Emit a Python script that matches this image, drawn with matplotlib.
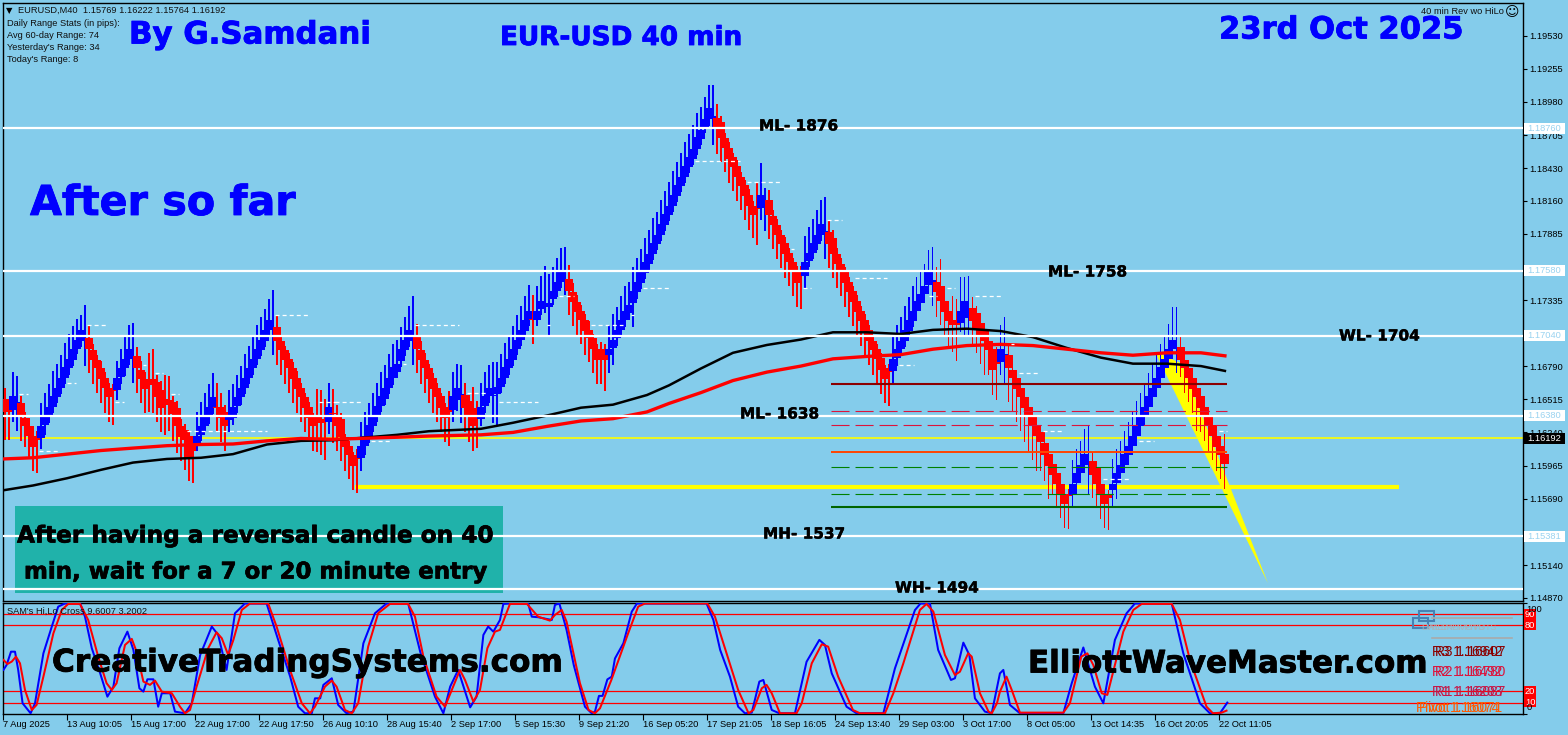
import numpy as np
import matplotlib
matplotlib.use("Agg")
import matplotlib.pyplot as plt
import matplotlib.patheffects as pe
from matplotlib.patches import Rectangle, Polygon

W, H = 1568, 735
BG = '#84CCEB'
plt.rcParams['lines.scale_dashes'] = False
plt.rcParams['font.family'] = ['Liberation Sans', 'DejaVu Sans']

# ---- EURUSD M40 heikin-style candles, read per bar (in 1/10000 of a price unit)
opens = [
11652,11644,11643,11648,11648,11636,11629,11621,11621,11619,11630,11638,11645,11653,11661,11669,11677,11684,11693,11700,
11703,11702,11692,11684,11677,11669,11661,11661,11659,11670,11677,11685,11686,11687,11676,11668,11668,11668,11666,11659,
11652,11651,11649,11644,11629,11626,11621,11614,11614,11622,11629,11637,11645,11645,11645,11641,11634,11636,11646,11653,
11661,11669,11677,11685,11692,11700,11709,11710,11711,11700,11692,11685,11677,11669,11661,11653,11645,11636,11637,11635,
11634,11633,11640,11638,11635,11620,11613,11605,11605,11603,11613,11621,11629,11638,11646,11652,11661,11669,11674,11683,
11692,11700,11700,11704,11692,11684,11677,11669,11661,11654,11645,11645,11643,11651,11655,11655,11650,11644,11636,11635,
11646,11654,11654,11656,11662,11669,11677,11684,11693,11701,11708,11717,11718,11717,11726,11728,11728,11735,11741,11749,
11750,11751,11740,11732,11725,11717,11709,11702,11693,11693,11692,11688,11694,11702,11709,11717,11723,11731,11740,11748,
11756,11764,11772,11780,11788,11796,11804,11812,11820,11828,11836,11844,11851,11859,11867,11876,11884,11884,11885,11881,
11868,11860,11852,11845,11836,11829,11821,11812,11812,11810,11815,11817,11803,11796,11788,11781,11773,11765,11758,11757,
11754,11766,11773,11780,11788,11790,11790,11785,11772,11764,11757,11749,11741,11733,11725,11717,11709,11700,11693,11686,
11677,11677,11675,11686,11693,11700,11708,11716,11725,11731,11739,11746,11749,11749,11745,11733,11725,11717,11717,11715,
11719,11726,11727,11723,11715,11709,11700,11693,11685,11682,11688,11688,11676,11669,11661,11653,11645,11637,11630,11624,
11615,11606,11598,11590,11581,11572,11573,11572,11582,11590,11597,11598,11600,11595,11581,11572,11572,11576,11582,11590,
11597,11605,11613,11621,11629,11637,11645,11653,11661,11669,11677,11685,11693,11694,11695,11684,11677,11669,11661,11654,
11645,11637,11630,11621,11613,11606]
closes = [
11641,11641,11654,11649,11637,11629,11621,11612,11618,11629,11637,11645,11654,11661,11669,11678,11685,11693,11701,11709,
11704,11693,11684,11677,11668,11661,11653,11658,11669,11677,11685,11693,11687,11677,11668,11660,11667,11663,11653,11644,
11650,11647,11639,11629,11620,11618,11604,11609,11621,11629,11637,11645,11653,11644,11636,11629,11637,11645,11653,11661,
11669,11677,11685,11693,11701,11709,11717,11711,11700,11692,11684,11677,11668,11660,11653,11644,11636,11629,11634,11632,
11633,11645,11639,11629,11620,11612,11605,11596,11602,11613,11621,11630,11637,11646,11654,11661,11669,11678,11681,11693,
11701,11709,11704,11693,11684,11677,11668,11660,11653,11644,11636,11641,11654,11661,11656,11644,11637,11629,11635,11645,
11654,11661,11655,11662,11669,11678,11685,11693,11701,11709,11717,11725,11717,11725,11733,11729,11731,11741,11749,11757,
11751,11741,11732,11724,11717,11708,11702,11693,11684,11688,11684,11693,11701,11709,11717,11725,11730,11741,11749,11757,
11765,11772,11781,11788,11797,11805,11812,11821,11829,11836,11845,11852,11859,11869,11875,11884,11893,11886,11876,11868,
11860,11851,11844,11836,11828,11820,11812,11804,11809,11821,11817,11804,11796,11788,11780,11772,11765,11757,11748,11754,
11765,11773,11781,11788,11797,11791,11780,11772,11764,11757,11748,11740,11732,11724,11716,11708,11700,11692,11685,11676,
11668,11674,11685,11693,11700,11709,11717,11725,11733,11739,11745,11757,11750,11740,11733,11724,11716,11713,11713,11725,
11733,11727,11716,11710,11703,11700,11692,11676,11681,11693,11689,11677,11669,11660,11653,11644,11637,11629,11621,11616,
11605,11596,11589,11581,11573,11565,11571,11581,11590,11597,11606,11599,11589,11581,11572,11565,11570,11581,11590,11597,
11606,11613,11621,11630,11637,11645,11654,11661,11669,11678,11685,11693,11701,11695,11684,11677,11669,11660,11653,11644,
11637,11629,11621,11612,11605,11598]
upper_wicks = [
9,5, 20,22, 6,5,7,8,4, 19,20,19,21,20,19,20,21,19,17,12,26, 10,5,4,6,5,4,3, 14,16,18,20,28,
8,7,6,22,25,6,8,20,20,5,6,6,5,4,5, 20,20,20,19,20, 20,12,6, 22,19,19,18,20,19,19,20,19,17,18,31,
10,5,4,5,5,6,4,4,4,4,23,24,18, 20, 20,9,5,3,4,3,5, 20,20,18,20,19,20,19,20,19,20,18,19,20,33,
10,8,6,4,4,4,3,3,13, 20,20,24, 10,5,18,14, 20,20,19,27,20,20,20,20,19,20,20,20,21, 20,
20,21,33,24,20,20,20,27, 12,8,6,5,5,7,4,4,6,5,
20,21,19,20,20,19,20,20,19,20,20,21,19,20,19,20,20,19,20,20,19,20,20,19,18,19,26,
11,5,4,5,4,5,4,4,5,4,20, 26,10, 8,5,5,4,5,4,4,4,5, 22,21,20,20,20,28,
10,7,5,5,4,4,4,5,4,5,4,4,4,4,3,4, 20,20,20,20,19,20,20,20,19,18,28, 12,23,6,5,20,18, 28,20,27,
9,6,5,4,6,4,10, 20,31, 10,5,4,5,4,4,4,5,6,4,4,4,4,4,3,4, 20,20,20,21,30, 8,5,4,4,4,
21,20,20,19,20,20,20,20,20,19,20,20,19,20,21,27,33, 8,5,4,4,5,4,4,4,4,4,5,17]
lower_wicks = [
23,23, 10,23, 20,17,19,20,28, 9,8,6,5,5,5,5,5,5,4,5,24, 20,20,20,20,21,20,28, 8,6,6,5,21,
20,20,20,26,23,20,20,28,22,22,22,20,25,20,27, 5,5,5,6,6, 20,20,20, 10,6,6,6,5,5,5,5,5,5,5,22,
20,20,20,20,20,20,20,20,19,20,26,27,32, 10, 24,20,20,20,20,20,28, 11,8,6,5,5,5,5,5,6,5,5,5,5,20,
20,20,20,20,20,20,20,20,28, 10,9,23, 20,21,20,24, 6,6,6,22,27,5,5,5,5,5,5,5,5, 20,
5,5,5,25,5,5,5,12, 20,20,20,20,20,20,20,20,24,26,
15,14,6,6,6,6,20,5,5,5,5,5,5,5,5,5,5,5,5,5,5,5,5,5,4,6,22,
21,20,20,20,20,20,20,20,20,19,30, 10,24, 20,20,20,20,20,20,20,20,28, 10,5,5,5,5,22,
20,20,20,20,20,20,20,20,20,20,20,20,20,20,20,28, 10,7,5,5,5,5,5,5,5,5,20, 20,20,20,20,22,30, 8,14,21,
20,20,22,28,20,21,30, 10,24, 28,28,27,28,28,28,28,29,24,21,27,17,18,20,20,27, 9,8,6,5,26, 19,19,20,20,27,
13,13,6,5,5,5,5,5,5,5,5,5,5,5,5,5,21, 14,20,20,20,28,20,20,20,20,20,20,21]

# ---- moving averages, read at marked bars
ma_bars = [-0.5,7,15.5,24,32,40.5,49,57,65.5,74,82,98,106,119,127,135.5,144,152,160.5,166,174,182,190.5,199,207,215.5,224,232,240.5,249,257,265.5,274,282,290.5,299,305]
ma_red = [11602,11603,11606,11609,11611,11613,11614,11614.4,11617,11619,11618.3,11620,11621,11622,11624,11629,11633.5,11635.4,11641,11648,11657,11667,11674,11679,11685,11687,11688.5,11693,11696,11697,11696,11693,11690,11688,11690,11690,11687.5]
ma_black = [11576,11580,11586,11593,11599,11602,11603,11606,11614,11617,11617.5,11622,11625,11627,11632,11638,11644.5,11647,11655,11663,11677,11690,11696.5,11701,11707,11707,11705.6,11709,11710,11708,11703,11694,11686,11681,11681,11679,11675]

# ---- price levels
white_levels = [1.18760, 1.17580, 1.17040, 1.16380, 1.15381, 1.14940]
box_levels = [1.18760, 1.17580, 1.17040, 1.16380, 1.15381]
current_price = 1.16192
yellow_level = 1.1579
pivot_dark_red = 1.1664
pivot_crimson = [1.1642, 1.1630]
pivot_orange = 1.1608
pivot_green = [1.1595, 1.1573]
pivot_dark_green = 1.1562
yellow_wedge_bars = [287.5, 294.2, 315.75]
yellow_wedge_prices = [1.1691, 1.1681, 1.1499]

price_ticks = [1.1953,1.19255,1.1898,1.18705,1.1843,1.1816,1.17885,1.1761,1.17335,1.1706,1.1679,1.16515,1.1624,1.15965,1.1569,1.1514,1.1487]

# short white dashed pivots: start bar, end bar, price (1/10000)
dash_start = [3.5,8.5,15.5,20.5,27.5,34.5,37.5,41.5,45.5,67.5,78.5,82.5,91.5,99.5,102.5,115.5,123.5,135.5,138.5,146.5,156.5,159.5,172.5,185.5,196.5,199.5,205.5,212.5,223.5,231,235.5,242.5,251.5,253.5,259.5,271.5,274.5,283.5,303.5]
dash_end = [5.75,13.5,17.75,25.5,29.75,35.25,39.5,43.5,65.4,75.75,83.25,89.25,96.5,100.25,113.5,120.5,133.25,136.25,142.25,154.5,157.25,166.25,183.75,193.75,197.25,201.5,209.25,220.5,227.25,233,237.5,249.25,252.25,258.25,264.5,272.25,281.5,287.25,305.5]
dash_price = [11656,11609,11665,11713,11649,11680,11673,11656,11625,11721,11649,11649,11617,11681,11713,11657,11649,11713,11737,11713,11721,11744,11849,11832,11776,11744,11800,11752,11680,11737,11744,11737,11697,11673,11625,11609,11585,11617,11625]

# ---- oscillator knots
stoch_blue_bars = [-0.4,0.4,1.5,2.5,3.3,4.4,5.4,6.4,7.5,9.6,11.7,13.3,15,18.8,20,21.7,23.8,25.6,27.1,28.6,30.6,32.1,33.6,34.6,35.6,37.1,38.3,39.2,41.3,42.5,45,46.7,48.8,51.7,53.3,55.4,57.5,60,65.4,68.3,71.3,73.3,75,76.7,77.5,78.8,79.6,81.7,83.3,85.4,87.1,89.6,92.5,95.4,100.8,103.8,107.5,109.6,111.3,113.3,116.3,117.9,119.6,120.8,122.1,123.75,124.6,126.25,130.8,131.7,133.3,136.7,137.5,138.6,140.4,142.2,145,146.7,147.5,148.5,149.4,150.6,151.7,152.5,154.6,156.7,158,175.4,177.1,178.8,181.25,183.3,185,186.7,188.6,189.6,191.7,193.6,197.5,200.4,203.6,205,206.7,210.4,212.9,219.6,222.5,227.5,228.9,231.25,233.3,236.5,237.5,239.6,241.1,242.5,245,246.7,248.75,249.6,251.25,253.75,264.6,266.7,269.6,272.5,274.6,277.5,280.4,282.5,291.7,294.6,298.75,301.25,303.75,305.6]
stoch_blue = [39.6,44.1,56.2,56.2,39.6,9.3,4.7,0.2,9.3,54.7,79,97.1,100,100,88,59.3,36.5,15.3,24.4,59.3,74.4,57.8,22.9,19.9,31.1,31.1,6.2,18.4,18.4,1.7,0.2,9.3,53.2,79,71.4,39.6,91.1,100,100,66.9,33.5,6.2,0.2,0.2,13.8,13.8,26,32,7.8,0.2,1.7,63.8,91.1,100,100,56.2,15.3,0.2,24.4,39.6,5.6,15.3,71.4,79,74.4,85,99.6,100,100,88,87.5,85,98.7,100,76,44,6.2,0.2,1.7,16,16,31,33.5,50,63.8,92.6,100,100,85,57.8,33.5,6.2,0.2,0.8,29,30.5,3.2,0.2,0.2,47,66.9,62.3,36.5,6.2,0.2,0.2,41,94,100,100,57.8,30.5,32,64.4,53.2,13.8,1.7,0.2,36.5,39.6,7.8,0.2,0.2,27.5,60,24.4,9.3,66.9,91,100,100,54.7,9.3,0.2,0.2,9.9]
stoch_red_bars = [-0.4,0.6,1.7,2.75,3.75,5,6.7,7.9,9.6,12.1,14.2,15.8,18.75,20.8,23.3,25.4,26.7,27.9,30,31.7,32.9,34.6,36.25,37.5,39.2,41.7,43.75,45,46.25,47.9,50.8,52.9,54.2,55.8,57.1,59.2,61.25,65.8,67.9,71.25,74.2,76.25,77.5,80,81.7,82.9,85,86.7,88.3,90.8,93.3,96.25,100.8,102.5,104.6,107.9,110,111.7,113.75,115,117.1,118.75,120.6,122.5,123.75,126.25,130.5,133.3,136.25,137.5,139.2,140.4,143.75,145.9,147.5,148.75,151.6,155.8,158.3,160,175.6,177.5,180.4,183.3,185.9,187.1,189.2,190.4,191.7,193.75,197.9,199.2,201.7,204.2,205.8,208.3,212,213.75,220,222.1,224.6,228.75,230.4,232.1,235,237.5,238.75,240.8,241.7,243.75,245.9,246.7,248,248.75,250.4,251.7,253.75,264.6,266.25,269.1,270.6,272.1,274.2,275.6,279.6,282.1,284.2,291.7,293.75,296.25,300.4,302,304.2,305.4]
stoch_red = [48.7,45,47.2,51.7,45.6,21.4,3.2,7.8,33.5,72.9,94.1,99.6,99.6,85,51.7,27.5,21.4,27.5,62.3,67.8,56.2,29,26,29.9,19.9,18.4,6.2,0.2,3.2,24.4,59.3,73.8,68.4,53.2,66.9,94.1,100,100,79,39.6,9.3,0.2,6.2,24.4,29.9,24.4,3.2,0.2,9.3,60.8,91.1,99.6,99.6,88,51.7,15.3,6.2,21.4,39.6,30.5,10.8,21.4,59.3,74.4,76,99.6,99.6,88,84.4,89.6,94.1,83.5,27.5,3.2,0.2,4.7,30.5,72.9,97.1,100,100,88,54.7,21.4,0.2,3.2,22.9,26,18.4,0.2,0.2,9.3,45.6,62.9,60.8,33.5,3.2,0.2,0.2,18.4,45.6,94.1,99.6,92.6,53.2,35,38,54.7,51.7,18.4,1.7,0.2,9.3,19.9,33.5,21.4,0.8,0.8,9.3,51.7,54.7,44,18.4,16.9,74.4,94.1,99.6,99.6,85,48.7,6.2,0.2,0.8,2.6]
stoch_levels = [90, 80, 20, 10]

x_tick_bars = [-0.5 + 16*k for k in range(20)]
x_tick_labels = ['7 Aug 2025','13 Aug 10:05','15 Aug 17:00','22 Aug 17:00','22 Aug 17:50','26 Aug 10:10','28 Aug 15:40','2 Sep 17:00','5 Sep 15:30','9 Sep 21:20','16 Sep 05:20','17 Sep 21:05','18 Sep 16:05','24 Sep 13:40','29 Sep 03:00','3 Oct 17:00','8 Oct 05:00','13 Oct 14:35','16 Oct 20:05','22 Oct 11:05']

level_notes = [('ML- 1876',759,126),('ML- 1758',1048,272),('WL- 1704',1339,336),('ML- 1638',740,414),('MH- 1537',763,534),('WH- 1494',895,588)]
info_lines = ["Daily Range Stats (in pips):","Avg 60-day Range: 74","Yesterday's Range: 34","Today's Range: 8"]

# ---- figure
fig = plt.figure(figsize=(W/100, H/100), dpi=100, facecolor=BG)
def axes_px(l, t, r, b):
    return fig.add_axes([l/W, 1-b/H, (r-l)/W, (b-t)/H], facecolor=BG)
def txt(x, y, s, **kw):
    kw.setdefault('va', 'center'); kw.setdefault('ha', 'left')
    kw.setdefault('zorder', 10)
    return fig.text(x/W, 1-y/H, s, **kw)

XLIM = (-0.5, 379.4)
ax = axes_px(3, 2.5, 1522.5, 600.7)
ax2 = axes_px(3, 602.7, 1522.5, 714)
ax.set_xlim(*XLIM); ax2.set_xlim(*XLIM)
ax.set_ylim(1.14845, 1.19804)
ax2.set_ylim(-0.45, 100.7)

op = np.array(opens)/1e4; cl = np.array(closes)/1e4
up = np.array(upper_wicks)/1e4; lo = np.array(lower_wicks)/1e4
top = np.maximum(op, cl) + up
bot = np.minimum(op, cl) - lo
bars = np.arange(len(op))
for i in bars:
    col = '#0000FF' if cl[i] >= op[i] else '#FF0000'
    ax.bar(i, abs(cl[i]-op[i]), bottom=min(op[i], cl[i]), width=2.0, color=col, lw=0,
           zorder=3+i*0.001, antialiased=False)
    ax.bar(i, top[i]-bot[i], bottom=bot[i], width=0.28, color=col, lw=0,
           zorder=3+i*0.001, antialiased=False)

# background levels
ax.axhline(current_price, color='#FFFF00', lw=1.2, zorder=2)
ax.hlines(yellow_level, 87.5, 348.5, color='#FFFF00', lw=3.0, zorder=2)
ax.add_patch(Polygon(np.column_stack([yellow_wedge_bars, yellow_wedge_prices]), closed=True,
                     fc='#FFFF00', ec='none', zorder=2))

# MAs
ax.plot(ma_bars, np.array(ma_black)/1e4, color='black', lw=1.8, zorder=5)
ax.plot(ma_bars, np.array(ma_red)/1e4, color='#FF0000', lw=2.4, zorder=5.1)

# white dashes
for a, b, p in zip(dash_start, dash_end, dash_price):
    ax.plot([a, b], [p/1e4, p/1e4], color='white', lw=0.9, ls=(0, (2.9, 2.2)), zorder=5.2)

# teal note box sits under the white levels
corners = ax.transAxes.inverted().transform(fig.transFigure.transform([(15/W, 1-592.7/H), (503/W, 1-506/H)]))
ax.add_patch(Rectangle(corners[0], corners[1][0]-corners[0][0], corners[1][1]-corners[0][1],
                       transform=ax.transAxes, fc='#20B2AA', ec='none', zorder=5.5))

# white levels
for p in white_levels:
    ax.axhline(p, color='white', lw=1.6, zorder=6)

# daily pivots
P0, P1 = 206.5, 305.5
ax.hlines(pivot_dark_red, P0, P1, color='#8B0000', lw=1.5, zorder=6)
ax.hlines(pivot_dark_green, P0, P1, color='#006400', lw=1.5, zorder=6)
ax.hlines(pivot_orange, P0, P1, color='#FF4500', lw=1.4, zorder=6)
for p in pivot_crimson:
    ax.plot([P0, P1], [p, p], color='#DC143C', lw=0.8, ls=(0, (13, 4.3)), zorder=6)
for p in pivot_green:
    ax.plot([P0, P1], [p, p], color='#008000', lw=0.8, ls=(0, (13, 4.3)), zorder=6)

# price axis
ax.yaxis.tick_right()
ax.set_yticks(price_ticks)
ax.set_yticklabels([f'{p:.5f}' for p in price_ticks], fontsize=6.7, color='black')
ax.tick_params(axis='y', length=3, width=0.8, pad=2)
ax.set_xticks([])
for s in ax.spines.values():
    s.set_linewidth(1.0); s.set_color('black')
for s in ax2.spines.values():
    s.set_linewidth(1.0); s.set_color('black')

# price boxes on the axis
trans = ax.get_yaxis_transform()
x0 = 1 + 1.5/1519.5
bw = 41/1519.5
bh = 11*(1.19804-1.14845)/598.2
for p in box_levels:
    ax.add_patch(Rectangle((x0, p-bh/2), bw, bh, transform=trans, fc='white', ec='none', clip_on=False, zorder=8))
    ax.text(x0+bw/2, p, f'{p:.5f}', transform=trans, fontsize=6.7, color='#9AD3F0', ha='center', va='center',
            clip_on=False, zorder=9)
ax.add_patch(Rectangle((x0, current_price-bh/2), bw, bh, transform=trans, fc='black', ec='none', clip_on=False, zorder=8))
ax.text(x0+bw/2, current_price, f'{current_price:.5f}', transform=trans, fontsize=6.7, color='white',
        ha='center', va='center', clip_on=False, zorder=9)

# oscillator
for v in stoch_levels:
    ax2.axhline(v, color='#FF0000', lw=0.9, zorder=2)
ax2.plot(stoch_blue_bars, stoch_blue, color='#0000FF', lw=1.45, zorder=3)
ax2.plot(stoch_red_bars, stoch_red, color='#FF0000', lw=1.45, zorder=4)
ax2.yaxis.tick_right()
ax2.set_yticks([0, 100]); ax2.set_yticklabels([])
ax2.tick_params(axis='y', length=3, width=0.8)
ax2.set_xticks(x_tick_bars)
ax2.set_xticklabels(x_tick_labels, fontsize=6.7, ha='left', color='black')
ax2.tick_params(axis='x', length=4, width=0.8, pad=0)

# oscillator level tags
tr2 = ax2.get_yaxis_transform()
ax2.add_patch(Rectangle((x0, 75.7), 12/1519.5, 19.3, transform=tr2, fc='#FF0000', ec='none', clip_on=False, zorder=8))
ax2.add_patch(Rectangle((x0, 5.9), 12/1519.5, 19.1, transform=tr2, fc='#FF0000', ec='none', clip_on=False, zorder=8))
for v in stoch_levels:
    ax2.text(x0+6/1519.5, v, str(v), transform=tr2, fontsize=6.7, color='white', ha='center', va='center', clip_on=False, zorder=9)
txt(1526, 609, '100', fontsize=6.7)
txt(1527, 707, '0', fontsize=6.7)

# small labels
small = dict(fontsize=6.7, color='#101010')
txt(6, 10.5, '▼', fontsize=6, color='black', family='DejaVu Sans')
txt(18, 10.5, 'EURUSD,M40  1.15769 1.16222 1.15764 1.16192', **small)
for s, y in zip(info_lines, [24, 36, 48, 60]):
    txt(7, y, s, **small)
txt(1504, 11, '40 min Rev wo HiLo', ha='right', **small)
txt(1505, 12, '☺', fontsize=10, family='DejaVu Sans', color='black')
txt(7, 611, "SAM's Hi,Lo Cross 9.6007 3.2002", **small)

# big bold labels
big = dict(family='DejaVu Sans', fontweight='bold')
def heavy(x, y, s, size, color, w=0.6):
    t = txt(x, y, s, fontsize=size, color=color, **big)
    t.set_path_effects([pe.withStroke(linewidth=w, foreground=color)])
heavy(129, 35, 'By G.Samdani', 22.2, '#0000FF')
heavy(500, 38, 'EUR-USD 40 min', 18.9, '#0000FF')
heavy(1219, 30, '23rd Oct 2025', 22, '#0000FF')
heavy(30, 204, 'After so far', 29.7, '#0000FF')
for s, x, y in level_notes:
    heavy(x, y, s, 11, 'black', 0.3)
heavy(17, 536, 'After having a reversal candle on 40', 16.7, 'black', 0.5)
heavy(24, 572, 'min, wait for a 7 or 20 minute entry', 16.5, 'black', 0.5)
heavy(52, 663, 'CreativeTradingSystems.com', 22.4, 'black')
heavy(1028, 664, 'ElliottWaveMaster.com', 22.3, 'black')

# right-side pivot block in the oscillator panel
for r in [Rectangle((1419/W, 1-621/H), 15/W, 10/H), Rectangle((1413/W, 1-628/H), 15/W, 10/H)]:
    r.set(transform=fig.transFigure, fc='none', ec='#4682B4', lw=1.5, zorder=9)
    fig.add_artist(r)
for yy in (618, 638):
    fig.add_artist(plt.Line2D([1432/W, 1512/W], [1-yy/H, 1-yy/H], color='#AAAAAA', lw=1.2, zorder=9))
txt(1422, 628, 'DAILY PIVOTS', fontsize=6.7, color='#A8B4BC')
txt(1427, 628, 'WEEKLY PIVOTS', fontsize=6.2, color='#A8B4BC')
piv_rows = [(651.5, 'R3', '#8B0000', '1.16942', '1.16607', 1432),
            (671.5, 'R2', '#DC143C', '1.16492', '1.16780', 1432),
            (692.5, 'R1', '#C71545', '1.16203', '1.16087', 1432),
            (708.5, 'Pivot', '#FF5A00', '1.16074', '1.16071', 1416)]
for y, name, c, a, b, xp in piv_rows:
    txt(xp, y, f'{name} {a}', fontsize=9.8, color=c)
    txt(xp+3, y, f'{name} {b}', fontsize=9.8, color=c)

fig.savefig('out.png', dpi=100, facecolor=BG)
